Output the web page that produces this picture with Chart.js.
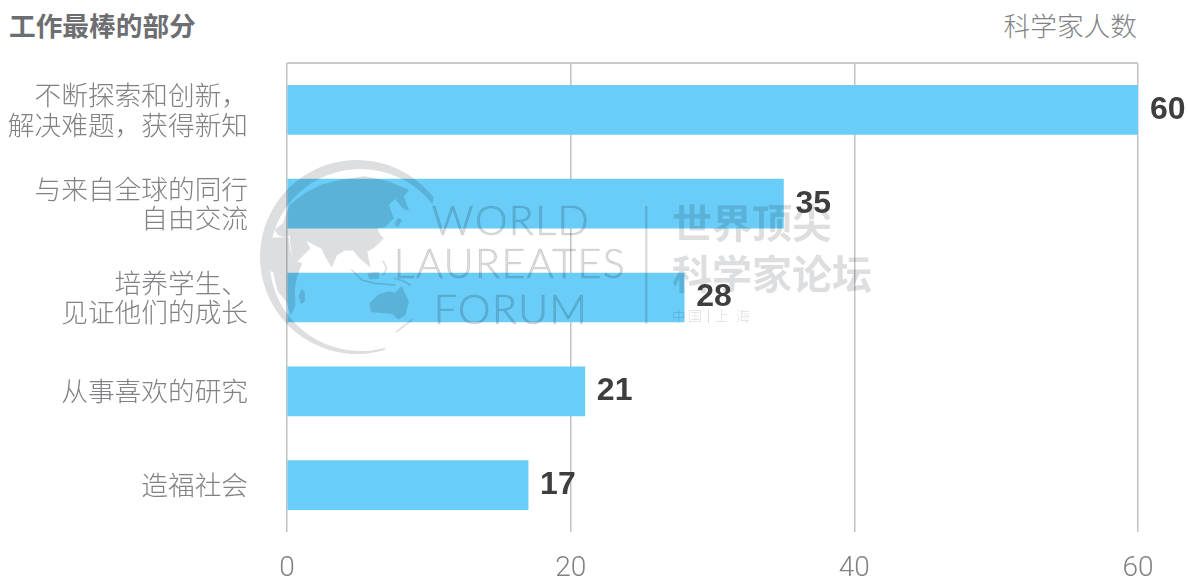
<!DOCTYPE html>
<html lang="zh">
<head>
<meta charset="utf-8">
<title>工作最棒的部分</title>
<script src="https://cdn.jsdelivr.net/npm/chart.js@4"></script>
<style>
    html, body { margin: 0; padding: 0; background: #fff; overflow: hidden; }
    #wrap { position: relative; width: 1188px; height: 579px; }
    #chart { position: absolute; left: 0; top: 0; }
    .head { position: absolute; font-family: "Noto Sans CJK SC", sans-serif; font-size: 26.7px; line-height: 32px; white-space: nowrap; }
    #title { left: 9px; top: 9px; font-weight: 700; color: #6d6e71; }
    #unit { right: 51px; top: 9px; font-weight: 300; color: #808285; }
</style>
</head>
<body>
<div id="wrap">
    <div id="title" class="head">工作最棒的部分</div>
    <div id="unit" class="head">科学家人数</div>
    <canvas id="chart" width="1188" height="579"></canvas>
</div>
<script>
const categories = [
    ['不断探索和创新，', '解决难题，获得新知'],
    ['与来自全球的同行', '自由交流'],
    ['培养学生、', '见证他们的成长'],
    '从事喜欢的研究',
    '造福社会'
];
const scientists = [60, 35, 28, 21, 17];
const xTicks = [0, 20, 40, 60];

const CJK = '"Noto Sans CJK SC", sans-serif';
const LATIN = 'Roboto, "Liberation Sans", sans-serif';

// Контуры глобуса, координаты логотипа в утроенном масштабе
const land = [
    // Евразия
    [[85,205],[105,150],[150,115],[200,90],[260,75],[330,65],[400,80],[460,105],[445,125],[460,165],[445,160],[420,130],[400,150],[415,190],[390,215],[365,220],[375,240],[385,250],[360,275],[335,290],[345,335],[315,310],[295,285],[270,285],[245,300],[230,335],[215,310],[200,280],[165,262],[150,255],[165,280],[125,320],[110,290],[105,240],[90,245],[70,240],[60,225]],
    // Африка
    [[30,250],[100,248],[105,290],[125,322],[140,325],[125,365],[118,400],[120,450],[108,478],[95,440],[70,410],[55,350],[38,345]],
    // Мадагаскар
    [[140,405],[148,410],[148,440],[138,445],[133,425]],
    // Австралия
    [[345,445],[370,420],[400,410],[420,415],[440,395],[460,440],[450,480],[430,492],[410,475],[350,470]],
    // Япония
    [[420,205],[430,190],[440,195],[428,215]],
    // Калимантан
    [[340,355],[370,352],[372,370],[345,372]]
];
const islands = [
    [[290,345],[320,375],[360,385],[420,390]],
    [[385,320],[395,340],[385,360]],
    [[420,370],[445,378],[465,390]],
    [[425,530],[470,495]]
];

function tracePath(ctx, shape) {
    ctx.beginPath();
    shape.forEach((p, i) => i ? ctx.lineTo(p[0], p[1]) : ctx.moveTo(p[0], p[1]));
}

// Логотип поверх столбцов, режим multiply даёт затемнение на синем
const watermark = {
    id: 'watermark',
    afterDatasetsDraw(chart) {
        const ctx = chart.ctx;
        const grey = 'rgb(221,222,224)';

        // материки и кольцо в отдельном слое, чтобы наложения не темнели дважды
        const layer = document.createElement('canvas');
        layer.width = chart.width;
        layer.height = chart.height;
        const g = layer.getContext('2d');
        g.fillStyle = grey;
        g.strokeStyle = grey;
        g.lineJoin = 'round';
        g.lineCap = 'round';

        g.beginPath();
        g.arc(357, 257, 97, Math.PI * 0.41, Math.PI * 1.79);
        g.arc(360.5, 260, 91, Math.PI * 1.79, Math.PI * 0.41, true);
        g.closePath();
        g.fill();

        g.translate(255, 155);
        g.scale(1 / 3, 1 / 3);
        g.lineWidth = 3;
        land.forEach(shape => {
            tracePath(g, shape);
            g.closePath();
            g.fill();
            g.stroke();
        });
        g.lineWidth = 5;
        islands.forEach(shape => {
            tracePath(g, shape);
            g.stroke();
        });

        ctx.save();
        ctx.globalCompositeOperation = 'multiply';
        ctx.drawImage(layer, 0, 0);
        ctx.fillStyle = grey;
        ctx.strokeStyle = grey;

        // надписи
        ctx.textBaseline = 'alphabetic';
        ctx.textAlign = 'center';
        ctx.font = '300 41px Lato, sans-serif';
        ctx.letterSpacing = '1.5px';
        ctx.lineWidth = 0.7;
        [['WORLD', 511, 235], ['LAUREATES', 510, 278], ['FORUM', 511, 324]].forEach(t => {
            ctx.fillText(t[0], t[1], t[2]);
            ctx.strokeText(t[0], t[1], t[2]);
        });
        ctx.letterSpacing = '0px';

        ctx.fillRect(645, 206, 2.5, 118);

        ctx.textAlign = 'left';
        ctx.font = '700 40px ' + CJK;
        ctx.fillText('世界顶尖', 672, 238);
        ctx.fillText('科学家论坛', 672, 289);
        ctx.font = '300 14px ' + CJK;
        ctx.letterSpacing = '2px';
        ctx.fillText('中国', 672, 321);
        ctx.fillText('上 海', 715, 321);
        ctx.letterSpacing = '0px';
        ctx.fillRect(708, 309, 1, 14);
        ctx.restore();
    }
};

// Подписи значений справа от столбцов
const valueLabels = {
    id: 'valueLabels',
    afterDatasetsDraw(chart) {
        const ctx = chart.ctx;
        ctx.save();
        ctx.font = '700 32px "Liberation Sans", sans-serif';
        ctx.fillStyle = '#3e3e3e';
        ctx.textAlign = 'left';
        ctx.textBaseline = 'middle';
        chart.getDatasetMeta(0).data.forEach((bar, i) => {
            ctx.fillText(scientists[i], bar.x + 12, bar.y);
        });
        ctx.restore();
    }
};

new Chart(document.getElementById('chart').getContext('2d'), {
    type: 'bar',
    data: {
        labels: categories,
        datasets: [{
            data: scientists,
            backgroundColor: '#69cdf7',
            barThickness: 49
        }]
    },
    options: {
        indexAxis: 'y',
        responsive: false,
        animation: false,
        layout: { padding: { top: 63, right: 50 } },
        plugins: { legend: { display: false }, tooltip: { enabled: false } },
        scales: {
            x: {
                min: xTicks[0],
                max: xTicks[xTicks.length - 1],
                afterBuildTicks(axis) { axis.ticks = xTicks.map(v => ({ value: v })); },
                afterFit(axis) { axis.height = 47; axis.paddingLeft = axis.paddingRight = 0; },
                border: { display: false },
                grid: { color: '#c2c2c4', lineWidth: 1.5, drawTicks: false },
                ticks: {
                    padding: 20,
                    maxRotation: 0,
                    color: '#808285',
                    font: { family: LATIN, size: 28, weight: 300 }
                }
            },
            y: {
                // подписи в две строки не должны сдвигать область графика
                afterFit(axis) { axis.width = 287; axis.paddingTop = axis.paddingBottom = 0; },
                border: { display: false },
                grid: {
                    offset: true,
                    drawTicks: false,
                    lineWidth: 2,
                    color: ctx => (ctx.index === 0 || ctx.index === categories.length) ? '#cbcbcd' : 'transparent'
                },
                ticks: {
                    padding: 39,
                    color: '#808285',
                    font: { family: CJK, size: 26.7, weight: 300, lineHeight: 1.09 }
                }
            }
        }
    },
    plugins: [watermark, valueLabels]
});
</script>
</body>
</html>
